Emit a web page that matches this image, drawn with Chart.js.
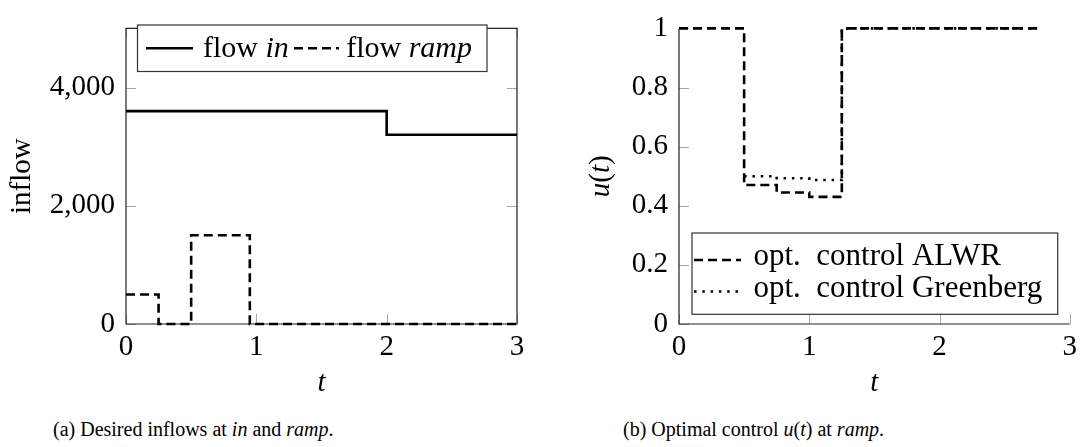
<!DOCTYPE html>
<html>
<head>
<meta charset="utf-8">
<script src="https://cdn.jsdelivr.net/npm/chart.js@4.4.1/dist/chart.umd.min.js"></script>
<style>
  html, body { margin: 0; padding: 0; background: #fff; }
  body { width: 1083px; height: 447px; position: relative; overflow: hidden; }
  canvas { position: absolute; top: 0; }
  .cap { position: absolute; top: 419px; font: 20px/20px "Liberation Serif", serif; color: #000; white-space: nowrap; }
</style>
</head>
<body>
<canvas id="ca" width="541" height="400" style="left:0px"></canvas>
<canvas id="cb" width="542" height="400" style="left:541px"></canvas>
<div class="cap" style="left:53px">(a) Desired inflows at <i>in</i> and <i>ramp</i>.</div>
<div class="cap" style="left:623px">(b) Optimal control <i>u</i>(<i>t</i>) at <i>ramp</i>.</div>
<script>
// ---------- data (panel a) ----------
const tIn      = [0, 2, 3];
const flowIn   = [3600, 3200, 3200];
const tRamp    = [0, 0.25, 0.5, 0.95, 3];
const flowRamp = [500, 0, 1500, 0, 0];
const xTicksA      = [0, 1, 2, 3];
const xTickLabelsA = ['0', '1', '2', '3'];
const yTicksA      = [0, 2000, 4000];
const yTickLabelsA = ['0', '2,000', '4,000'];

// ---------- data (panel b) ----------
const tAlwr   = [0, 0.5, 0.75, 1.0, 1.25, 2.75];
const uAlwr   = [1, 0.47, 0.445, 0.43, 1, 1];
const tGreen  = [0.5, 0.75, 1.0, 1.25, 2.75];
const uGreen  = [0.5, 0.493, 0.487, 1, 1];
const xTicksB      = [0, 1, 2, 3];
const xTickLabelsB = ['0', '1', '2', '3'];
const yTicksB      = [0, 0.2, 0.4, 0.6, 0.8, 1];
const yTickLabelsB = ['0', '0.2', '0.4', '0.6', '0.8', '1'];

const FAM = '"Liberation Serif", serif';
const FS = 29;
const DASH = [9, 5];
const DOT = [2.5, 5.8];
const LW = 2.6;

function pts(xs, ys) { return xs.map((x, i) => ({ x: x, y: ys[i] })); }

function font(it, size) { return (it ? 'italic ' : '') + size + 'px ' + FAM; }
function richWidth(ctx, parts, size) {
  let w = 0;
  for (const p of parts) { ctx.font = font(p.i, size); w += ctx.measureText(p.t).width; }
  return w;
}
function drawRich(ctx, parts, x, y, size) {
  let cx = x;
  ctx.textAlign = 'left';
  ctx.textBaseline = 'alphabetic';
  for (const p of parts) {
    ctx.font = font(p.i, size);
    ctx.fillText(p.t, cx, y);
    cx += ctx.measureText(p.t).width;
  }
  return cx;
}
function sample(ctx, x1, x2, y, dash) {
  ctx.save();
  ctx.strokeStyle = '#000';
  ctx.lineWidth = LW;
  ctx.setLineDash(dash);
  ctx.beginPath(); ctx.moveTo(x1, y); ctx.lineTo(x2, y); ctx.stroke();
  ctx.restore();
}

const decor = {
  id: 'decor',
  beforeDatasetsDraw(chart, args, o) {
    const ctx = chart.ctx, a = chart.chartArea;
    const xs = chart.scales.x, ys = chart.scales.y;
    ctx.save();
    ctx.strokeStyle = '#a6a6a6';
    ctx.lineWidth = 1;
    ctx.beginPath();
    for (const v of o.yTicks) {
      const py = Math.round(ys.getPixelForValue(v)) + 0.5;
      ctx.moveTo(a.left, py); ctx.lineTo(a.left + 10, py);
      if (o.full) { ctx.moveTo(a.right, py); ctx.lineTo(a.right - 10, py); }
    }
    for (const v of o.xTicks) {
      const px = Math.round(xs.getPixelForValue(v)) + 0.5;
      ctx.moveTo(px, a.bottom); ctx.lineTo(px, a.bottom - 10);
      if (o.full) { ctx.moveTo(px, a.top); ctx.lineTo(px, a.top + 10); }
    }
    ctx.stroke();
    ctx.strokeStyle = '#222';
    ctx.lineWidth = 1.2;
    ctx.beginPath();
    if (o.full) {
      ctx.rect(a.left, a.top, a.right - a.left, a.bottom - a.top);
    } else {
      ctx.moveTo(a.left, a.top); ctx.lineTo(a.left, a.bottom); ctx.lineTo(a.right, a.bottom);
    }
    ctx.stroke();
    ctx.restore();
  },
  afterDatasetsDraw(chart, args, o) {
    const ctx = chart.ctx, a = chart.chartArea;
    ctx.save();
    ctx.fillStyle = '#000';
    const cxm = (a.left + a.right) / 2;
    ctx.font = font(true, FS);
    ctx.textAlign = 'center';
    ctx.textBaseline = 'alphabetic';
    ctx.fillText('t', cxm, 391);
    ctx.save();
    ctx.translate(o.yTitleX, (a.top + a.bottom) / 2);
    ctx.rotate(-Math.PI / 2);
    const w = richWidth(ctx, o.yTitle, FS);
    drawRich(ctx, o.yTitle, -w / 2, 0, FS);
    ctx.restore();
    ctx.lineWidth = 1.2;
    ctx.strokeStyle = '#333';
    if (o.full) {
      // legend box (reference geometry: x 137.5..487, y 25..71.5)
      const bl = a.left + 11.5, bt = 25, bh = 46.5, br = a.right - 30;
      const ly = 48.3, by = 56.7;
      ctx.fillStyle = '#fff';
      ctx.fillRect(bl, bt, br - bl, bh);
      ctx.strokeRect(bl, bt, br - bl, bh);
      ctx.fillStyle = '#000';
      const x0 = bl + 8.5;
      sample(ctx, x0, x0 + 47, ly, []);
      const p1 = [{ t: 'flow ' }, { t: 'in', i: true }];
      const p2 = [{ t: 'flow ' }, { t: 'ramp', i: true }];
      drawRich(ctx, p1, x0 + 57, by, 30);
      const x1 = x0 + 148;
      sample(ctx, x1, x1 + 45, ly, DASH);
      // right-align second label to box like reference
      const w2 = richWidth(ctx, p2, 30);
      drawRich(ctx, p2, Math.max(x1 + 50, br - 15 - w2), by, 30);
    } else {
      const bl = a.left + 13, bt = 233, bb = a.bottom - 9.7, br = a.right - 12;
      const r1 = [{ t: 'opt.  control ALWR' }];
      const r2 = [{ t: 'opt.  control Greenberg' }];
      const tx = bl + 61.5;
      ctx.fillStyle = '#fff';
      ctx.fillRect(bl, bt, br - bl, bb - bt);
      ctx.strokeRect(bl, bt, br - bl, bb - bt);
      ctx.fillStyle = '#000';
      sample(ctx, bl + 2, bl + 49, 260, DASH);
      drawRich(ctx, r1, tx, 264.5, 31);
      sample(ctx, bl + 2, bl + 49, 291.5, DOT);
      drawRich(ctx, r2, tx, 296.5, 31);
    }
    ctx.restore();
  }
};

function makeChart(id, datasets, cfg) {
  return new Chart(document.getElementById(id), {
    type: 'line',
    data: { datasets: datasets },
    plugins: [decor],
    options: {
      responsive: false,
      animation: false,
      events: [],
      layout: { padding: { left: 0, top: 15, right: cfg.padRight, bottom: 0 } },
      plugins: {
        legend: { display: false },
        tooltip: { enabled: false },
        decor: cfg.decor
      },
      elements: { point: { radius: 0 }, line: { tension: 0, borderWidth: LW, borderColor: '#000', fill: false } },
      scales: {
        x: {
          type: 'linear', min: cfg.xMin, max: cfg.xMax,
          grid: { display: false, drawTicks: false },
          border: { display: false },
          afterBuildTicks: s => { s.ticks = cfg.xTicks.map(v => ({ value: v })); },
          afterFit: s => { s.height = 400 - 324; },
          ticks: {
            padding: 6, color: '#000', maxRotation: 0, autoSkip: false,
            font: { family: FAM, size: FS },
            callback: v => cfg.xLabels[cfg.xTicks.indexOf(v)]
          }
        },
        y: {
          type: 'linear', min: cfg.yMin, max: cfg.yMax,
          grid: { display: false, drawTicks: false },
          border: { display: false },
          afterBuildTicks: s => { s.ticks = cfg.yTicks.map(v => ({ value: v })); },
          afterFit: s => { s.width = cfg.yWidth; },
          ticks: {
            padding: 11, color: '#000', autoSkip: false,
            font: { family: FAM, size: FS },
            callback: v => cfg.yLabels[cfg.yTicks.indexOf(v)]
          }
        }
      }
    }
  });
}

makeChart('ca', [
  { label: 'flow in', data: pts(tIn, flowIn), stepped: 'before', clip: false, borderColor: '#000', borderWidth: LW, borderDash: [] },
  { label: 'flow ramp', data: pts(tRamp, flowRamp), stepped: 'before', clip: false, borderColor: '#000', borderWidth: LW, borderDash: DASH }
], {
  padRight: 541 - 517, yWidth: 126,
  xMin: 0, xMax: 3, yMin: 0, yMax: 5000,
  xTicks: xTicksA, xLabels: xTickLabelsA, yTicks: yTicksA, yLabels: yTickLabelsA,
  decor: { full: true, xTicks: xTicksA, yTicks: yTicksA, yTitleX: 30, yTitle: [{ t: 'inflow' }] }
});

makeChart('cb', [
  { label: 'opt. control ALWR', data: pts(tAlwr, uAlwr), stepped: 'before', clip: false, borderColor: '#000', borderWidth: LW, borderDash: DASH },
  { label: 'opt. control Greenberg', data: pts(tGreen, uGreen), stepped: 'before', clip: false, borderColor: '#000', borderWidth: LW, borderDash: DOT }
], {
  padRight: 542 - 530, yWidth: 138,
  xMin: 0, xMax: 3, yMin: 0, yMax: 1,
  xTicks: xTicksB, xLabels: xTickLabelsB, yTicks: yTicksB, yLabels: yTickLabelsB,
  decor: { full: false, xTicks: xTicksB, yTicks: yTicksB, yTitleX: 609 - 541, yTitle: [{ t: 'u', i: true }, { t: '(' }, { t: 't', i: true }, { t: ')' }] }
});
</script>
</body>
</html>
